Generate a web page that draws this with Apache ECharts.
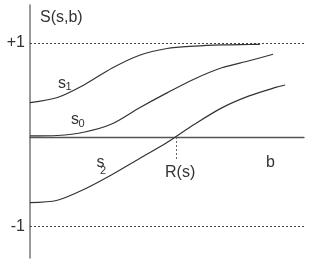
<!DOCTYPE html>
<html><head><meta charset="utf-8">
<script src="https://cdn.jsdelivr.net/npm/echarts@6/dist/echarts.min.js"></script>
<style>html,body{margin:0;padding:0;background:#fff}#c{width:315px;height:266px}</style>
</head><body><div id="c"></div>
<script>
// b values and S(s,b) values
const s1B = [0, 1, 2, 3, 4, 5, 6, 7, 8, 8.39];
const s1S = [0.365, 0.42, 0.559, 0.734, 0.87, 0.941, 0.966, 0.979, 0.984, 0.986];
const s0B = [0, 1, 2, 3, 4, 5, 6, 7, 8, 8.87];
const s0S = [0.011, 0.016, 0.053, 0.141, 0.311, 0.469, 0.617, 0.736, 0.811, 0.88];
const s2B = [0, 1, 2, 3, 4, 5, 6, 7, 8, 9, 9.31];
const s2S = [-0.699, -0.673, -0.553, -0.399, -0.229, -0.059, 0.135, 0.31, 0.437, 0.53, 0.553];
const yTickValues = [1, -0.95];
const yTickLabels = ['+1', '-1'];
const rB = 5.32;        // R(s): where s2 crosses zero
const rLineEnd = -0.235;

const zip = (a, b) => a.map((v, i) => [v, b[i]]);
const font = '"Liberation Sans", Arial, sans-serif';
const lineStyle = {color: '#333', width: 1.2};

const chart = echarts.init(document.getElementById('c'), null, {renderer: 'canvas'});
chart.setOption({
  animation: false,
  grid: {left: 30, right: 11, top: 5, bottom: 8},
  xAxis: {type: 'value', min: 0, max: 10, axisLine: {onZero: true, lineStyle: {color: '#555', width: 1.3}},
          axisTick: {show: false}, axisLabel: {show: false}, splitLine: {show: false}},
  yAxis: {type: 'value', min: -1.287, max: 1.404, axisLine: {show: true, lineStyle: {color: '#777', width: 1.5}},
          axisTick: {show: false}, axisLabel: {show: false}, splitLine: {show: false}},
  series: [
    {type: 'line', data: zip(s1B, s1S), smooth: 0.3, symbol: 'none', lineStyle},
    {type: 'line', data: zip(s0B, s0S), smooth: 0.3, symbol: 'none', lineStyle},
    {type: 'line', data: zip(s2B, s2S), smooth: 0.3, symbol: 'none', lineStyle,
     markLine: {silent: true, symbol: 'none', animation: false,
       data: [
         ...yTickValues.map((v, i) => ({yAxis: v, label: {show: true, position: 'start', distance: 5,
             formatter: yTickLabels[i], color: '#333', fontSize: 16, fontFamily: font},
             lineStyle: {type: [2, 2], color: '#444', width: 1}})),
         [{coord: [rB, 0], label: {show: false}, lineStyle: {type: [2, 2], color: '#666', width: 1}},
          {coord: [rB, rLineEnd]}]
       ]}}
  ],
  graphic: [
    {type: 'text', x: 40, y: 18, style: {text: 'S(s,b)', font: '16px ' + font, fill: '#333', verticalAlign: 'middle'}},
    {type: 'text', x: 58, y: 84, style: {text: 's', font: '16px ' + font, fill: '#333', verticalAlign: 'middle'}},
    {type: 'text', x: 65.5, y: 87, style: {text: '1', font: '11px ' + font, fill: '#333', verticalAlign: 'middle'}},
    {type: 'text', x: 71, y: 120, style: {text: 's', font: '16px ' + font, fill: '#333', verticalAlign: 'middle'}},
    {type: 'text', x: 78.5, y: 124, style: {text: '0', font: '11px ' + font, fill: '#333', verticalAlign: 'middle'}},
    {type: 'text', x: 96.5, y: 163, style: {text: 's', font: '16px ' + font, fill: '#333', verticalAlign: 'middle'}},
    {type: 'text', x: 100, y: 171, style: {text: '2', font: '11px ' + font, fill: '#333', verticalAlign: 'middle'}},
    {type: 'text', x: 165, y: 173, style: {text: 'R(s)', font: '16px ' + font, fill: '#333', verticalAlign: 'middle'}},
    {type: 'text', x: 266, y: 163, style: {text: 'b', font: '16px ' + font, fill: '#333', verticalAlign: 'middle'}}
  ]
});
</script></body></html>
